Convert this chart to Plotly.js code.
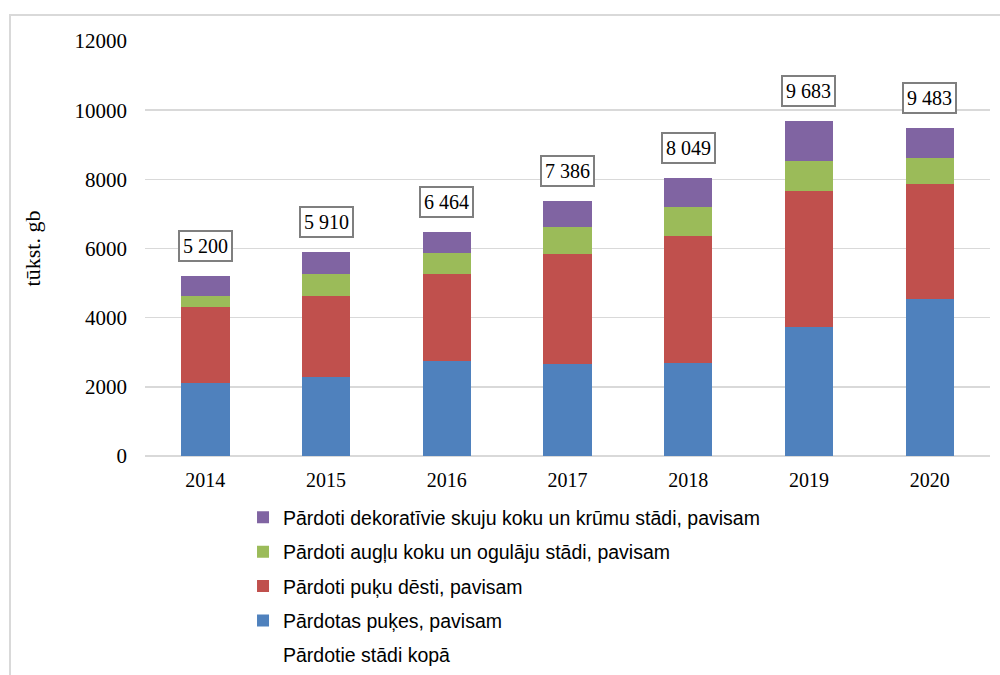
<!DOCTYPE html>
<html>
<head>
<meta charset="utf-8">
<script src="https://cdn.plot.ly/plotly-3.0.1.min.js"></script>
<style>
html,body{margin:0;padding:0;background:#fff;}
#wrap{position:relative;width:1000px;height:675px;overflow:hidden;}
#chart{position:absolute;left:0;top:0;width:1000px;height:675px;}
#frame{position:absolute;left:9px;top:14px;width:1000px;height:700px;border:2px solid #d9d9d9;box-sizing:border-box;pointer-events:none;}
</style>
</head>
<body>
<div id="wrap"><div id="chart"></div><div id="frame"></div></div>
<script>
var years = ['2014','2015','2016','2017','2018','2019','2020'];
var flowers = [2110, 2275, 2740, 2670, 2700, 3720, 4540];
var seedlings = [2200, 2360, 2525, 3180, 3670, 3950, 3335];
var fruitTrees = [320, 627, 615, 780, 820, 860, 750];
var totals = [5200, 5910, 6464, 7386, 8049, 9683, 9483];
var totalLabels = ['5 200','5 910','6 464','7 386','8 049','9 683','9 483'];
var names = ['Pārdotas puķes, pavisam', 'Pārdoti puķu dēsti, pavisam', 'Pārdoti augļu koku un ogulāju stādi, pavisam', 'Pārdoti dekoratīvie skuju koku un krūmu stādi, pavisam', 'Pārdotie stādi kopā'];
var ornamental = totals.map(function(t,i){ return t - flowers[i] - seedlings[i] - fruitTrees[i]; });

var colors = ['#4f81bd','#c0504d','#9bbb59','#8064a2'];
var series = [flowers, seedlings, fruitTrees, ornamental];
var ranks = [4,3,2,1];
var traces = series.map(function(s,i){
  return {type:'bar', x:years, y:s, name:names[i], marker:{color:colors[i], line:{width:0}},
    legendrank:ranks[i], legendgroup:'g'+i, hoverinfo:'y'};
});
traces.push({type:'scatter', mode:'lines', x:years, y:totals, name:names[4], line:{width:0, color:'rgba(0,0,0,0)'}, legendrank:5, legendgroup:'g4', hoverinfo:'y'});

var annotations = years.map(function(y,i){
  return {x:i, y:totals[i], xref:'x', yref:'y', text:totalLabels[i], showarrow:false, yanchor:'bottom', yshift:14,
    font:{family:'Liberation Serif, Times New Roman, serif', size:20, color:'#000'},
    bordercolor:'#7f7f7f', borderwidth:2, borderpad:3, bgcolor:'#fff'};
});

var layout = {
  width:1000, height:675,
  margin:{l:145, r:10, t:41, b:219},
  paper_bgcolor:'#fff', plot_bgcolor:'#fff',
  barmode:'stack', bargap:0.6,
  showlegend:true,
  legend:{x:0.116, xanchor:'left', yref:'container', y:0.262, yanchor:'top', orientation:'v', traceorder:'grouped', tracegroupgap:6,
    font:{family:'Liberation Sans, Arial, sans-serif', size:19.5, color:'#000'}},
  xaxis:{type:'category', range:[-0.5, 6.5], showgrid:false, showline:false, zeroline:false, ticks:'', ticklabelstandoff:10,
    tickfont:{family:'Liberation Serif, Times New Roman, serif', size:20, color:'#000'}},
  yaxis:{range:[0,12000], dtick:2000, tickformat:'d', showgrid:true, gridcolor:'#d9d9d9', gridwidth:1.5, zeroline:true, zerolinecolor:'#d9d9d9', zerolinewidth:1.5, showline:false, ticks:'', ticklabelstandoff:17,
    tickfont:{family:'Liberation Serif, Times New Roman, serif', size:21, color:'#000'},
    title:{text:'tūkst. gb', standoff:27, font:{family:'Liberation Serif, Times New Roman, serif', size:22, color:'#000'}}},
  annotations:annotations
};
Plotly.newPlot('chart', traces, layout, {staticPlot:true, displayModeBar:false});
</script>
</body>
</html>
